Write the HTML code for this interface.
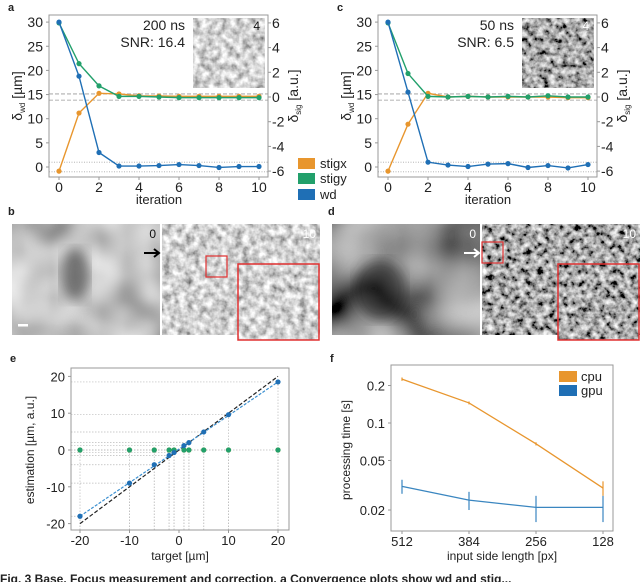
<!DOCTYPE html>
<html><head><meta charset="utf-8">
<style>
html,body{margin:0;padding:0;background:#fff;}
svg{display:block;font-family:"Liberation Sans",sans-serif;}
</style></head>
<body>
<svg id="fig" width="640" height="582" viewBox="0 0 640 582" xmlns="http://www.w3.org/2000/svg">
<defs>
<filter id="em1" x="0" y="0" width="100%" height="100%"><feTurbulence type="fractalNoise" baseFrequency="0.14" numOctaves="3" seed="3"/><feColorMatrix type="matrix" values="1.3 0 0 0 0.0  1.3 0 0 0 0.0  1.3 0 0 0 0.0  0 0 0 0 1"/></filter>
<filter id="em2" x="0" y="0" width="100%" height="100%"><feTurbulence type="fractalNoise" baseFrequency="0.16" numOctaves="3" seed="7"/><feColorMatrix type="matrix" values="1.7 0 0 0 -0.45  1.7 0 0 0 -0.45  1.7 0 0 0 -0.45  0 0 0 0 1"/></filter>
<filter id="blur1" x="0" y="0" width="100%" height="100%"><feTurbulence type="fractalNoise" baseFrequency="0.02" numOctaves="2" seed="5"/><feColorMatrix type="matrix" values="1.1 0 0 0 0.02  1.1 0 0 0 0.02  1.1 0 0 0 0.02  0 0 0 0 1"/></filter>
<filter id="blur2" x="0" y="0" width="100%" height="100%"><feTurbulence type="fractalNoise" baseFrequency="0.015" numOctaves="2" seed="9"/><feColorMatrix type="matrix" values="1.1 0 0 0 -0.25  1.1 0 0 0 -0.25  1.1 0 0 0 -0.25  0 0 0 0 1"/></filter>
<filter id="soft"><feGaussianBlur stdDeviation="6"/></filter>
</defs>
<g id="root"></g>
</svg>
<script>
// ---- data ----
const iterations = [0,1,2,3,4,5,6,7,8,9,10];
const aWd = [30,18.8,3,0.2,0.2,0.3,0.5,0.3,-0.1,0.1,0.1];
const aStigx = [-6,-1.3,0.3,0.25,0.1,0.08,0.05,0.05,0.05,0.05,0.05];
const aStigy = [6,2.7,0.9,0.05,0.05,0,-0.05,-0.05,-0.05,-0.05,-0.05];
const cWd = [30,15.5,1,0.4,0.1,0.6,0.7,-0.1,0.3,-0.2,0.5];
const cStigx = [-6,-2.2,0.3,0,0.05,0,0,0,0,-0.05,-0.05];
const cStigy = [6,1.9,0.05,0,0.05,0,0.05,0,0.1,0,0];
const leftTicks = [0,5,10,15,20,25,30];
const rightTicks = [-6,-4,-2,0,2,4,6];
const iterTicks = [0,2,4,6,8,10];
const eTargets = [-20,-10,-5,-2,-1,1,2,5,10,20];
const eWdEst = [-18,-9,-4,-1.5,-0.7,1.2,2,4.9,9.6,18.5];
const eStigEst = [0,0,0,0,0,0,0,0,0,0];
const eXTicks = [-20,-10,0,10,20];
const eYTicks = [-20,-10,0,10,20];
const fSizes = ['512','384','256','128'];
const fCpu = [0.225,0.145,0.068,0.03];
const fCpuErr = [0.007,0.004,0.002,0.004];
const fGpu = [0.031,0.024,0.021,0.021];
const fGpuErr = [0.004,0.004,0.005,0.005];
const fYTicks = [0.02,0.05,0.1,0.2];
const fYLabels = ['0.02','0.05','0.1','0.2'];

const C_OR='#e8962e', C_GR='#22a06b', C_BL='#1f6fb5';
const NS='http://www.w3.org/2000/svg';
const root=document.getElementById('root');
function mk(tag,attrs,parent){const e=document.createElementNS(NS,tag);for(const k in attrs)e.setAttribute(k,attrs[k]);(parent||root).appendChild(e);return e;}
function tx(x,y,s,size,anchor,parent,extra){const e=mk('text',Object.assign({x:x,y:y,'font-size':size,'text-anchor':anchor||'start',fill:'#222'},extra||{}),parent);e.textContent=s;return e;}

// ---- panels a & c ----
function iterPanel(ox,letter,wd,sx,sy,t1,t2,insetX,insetFilter){
  const g=mk('g',{});
  
  
  const L=ox+49,R=ox+268,T=15,B=177;
  const X=i=>ox+59+i*20, YL=v=>167-v*4.83, YR=v=>97-v*12.35;
  let e=tx(ox+8,11,letter,11,'start',g,{'font-weight':'bold'});
  
  e=mk('rect',{x:insetX,y:18,width:72,height:70,fill:'#888',filter:'url(#'+insetFilter+')'},g);
  
  e=tx(insetX+67,30,'4',12,'end',g,{fill: letter==='a'?'#111':'#fff'});
  
  e=tx(insetX-8,30,t1,14,'end',g);
  
  e=tx(insetX-8,47,t2,14,'end',g);
  
  [0.25,-0.25].forEach(v=>{e=mk('line',{x1:L,x2:R,y1:YR(v),y2:YR(v),stroke:'#999','stroke-dasharray':'4,2','stroke-width':0.8},g);
  });
  [1,-1].forEach(v=>{e=mk('line',{x1:L,x2:R,y1:YL(v),y2:YL(v),stroke:'#aaa','stroke-dasharray':'1,1.5','stroke-width':0.8},g);
  });
  e=mk('rect',{x:L,y:T,width:R-L,height:B-T,fill:'none',stroke:'#999','stroke-width':1},g);
  
  leftTicks.forEach(v=>{mk('line',{x1:L-3,x2:L,y1:YL(v),y2:YL(v),stroke:'#999'},g);
    e=tx(L-6,YL(v)+5,String(v),14,'end',g);
    });
  rightTicks.forEach(v=>{mk('line',{x1:R,x2:R+3,y1:YR(v),y2:YR(v),stroke:'#999'},g);
    e=tx(R+4,YR(v)+5,String(v),14,'start',g);
    });
  iterTicks.forEach(v=>{mk('line',{x1:X(v),x2:X(v),y1:B,y2:B+3,stroke:'#999'},g);
    e=tx(X(v),B+15,String(v),14,'middle',g);
    });
  e=tx(ox+159,B+27,'iteration',13,'middle',g);
  
  const lt=mk('text',{x:0,y:0,'font-size':14,fill:'#222','text-anchor':'middle',transform:'translate('+(ox+22)+',96) rotate(-90)'},g);
  lt.innerHTML='δ<tspan font-size="8" dy="3">wd</tspan><tspan dy="-3"> [µm]</tspan>';
  
  const rt=mk('text',{x:0,y:0,'font-size':14,fill:'#222','text-anchor':'middle',transform:'translate('+(R+30)+',96) rotate(-90)'},g);
  rt.innerHTML='δ<tspan font-size="8" dy="3">sig</tspan><tspan dy="-3"> [a.u.]</tspan>';
  
  function series(vals,Y,col,name){
    const pts=vals.map((v,i)=>X(iterations[i])+','+Y(v)).join(' ');
    let p=mk('polyline',{points:pts,fill:'none',stroke:col,'stroke-width':1.4},g);
    
    vals.forEach((v,i)=>{let c=mk('circle',{cx:X(iterations[i]),cy:Y(v),r:2.6,fill:col},g);
      });
  }
  series(sx,YR,C_OR,'stigx');
  series(sy,YR,C_GR,'stigy');
  series(wd,YL,C_BL,'wd');
}
iterPanel(0,'a',aWd,aStigx,aStigy,'200 ns','SNR: 16.4',193,'em1');
iterPanel(329,'c',cWd,cStigx,cStigy,'50 ns','SNR: 6.5',522,'em2');

[['stigx',C_OR,158],['stigy',C_GR,173],['wd',C_BL,189]].forEach(([n,c,y])=>{
  let r=mk('rect',{x:298,y:y,width:17,height:11,fill:c});
  
  let t=tx(320,y+10,n,13,'start');
  
});

// ---- panels b & d images ----
function imgPanel(letter,lx,rx,rw,filtL,filtR,arrowCol,sBox,blob){
  let e=tx(lx-2,215,letter,11,'start',null,{'font-weight':'bold'});
  
  e=mk('rect',{x:lx+2,y:224,width:rx-lx-4,height:111,fill:'#999',filter:'url(#'+filtL+')'});
  
  e=mk('ellipse',{cx:blob[0],cy:blob[1],rx:blob[2],ry:blob[3],fill:blob[4],filter:'url(#soft)',opacity:0.6});
  
  e=mk('rect',{x:rx,y:224,width:rw,height:111,fill:'#999',filter:'url(#'+filtR+')'});
  
  e=tx(rx-6,238,'0',12,'end',null,{fill:letter==='b'?'#111':'#fff'});
  
  e=tx(rx+rw-4,238,'10',12,'end',null,{fill:'#fff'});
  
  e=mk('rect',{x:sBox[0],y:sBox[1],width:21,height:21,fill:'none',stroke:'#e03030','stroke-width':1.2});
  
  const g=mk('g',{});
  
  
  mk('rect',{x:rx+rw-82,y:264,width:81,height:76,fill:'#888',filter:'url(#'+filtR+')'},g);
  mk('rect',{x:rx+rw-82,y:264,width:81,height:76,fill:'none',stroke:'#e03030','stroke-width':1.5},g);
  e=mk('path',{d:'M'+(rx-18)+' 253 L'+(rx-4)+' 253 M'+(rx-8)+' 249 L'+(rx-3)+' 253 L'+(rx-8)+' 257',stroke:arrowCol,'stroke-width':2,fill:'none'});
  
}
imgPanel('b',10,162,158,'blur1','em1','#000',[206,256],[75,275,14,26,'#333']);
imgPanel('d',330,482,158,'blur2','em2','#fff',[482,242],[380,290,25,30,'#222']);
let sb=mk('rect',{x:18,y:324,width:10,height:2.5,fill:'#fff'});


// ---- panel e ----
(function(){
  const L=71,R=289,T=368,B=530;
  const X=v=>179+v*4.95, Y=v=>450-v*3.68;
  let e=tx(10,362,'e',11,'start',null,{'font-weight':'bold'});
  
  eTargets.forEach((t,i)=>{
    [eWdEst[i],eStigEst[i]].forEach(v=>{
      let a=mk('line',{x1:X(t),x2:X(t),y1:B,y2:Y(v),stroke:'#bbb','stroke-dasharray':'1.5,1.5','stroke-width':0.7});
      
      let b=mk('line',{x1:L,x2:X(t),y1:Y(v),y2:Y(v),stroke:'#bbb','stroke-dasharray':'1.5,1.5','stroke-width':0.7});
      
    });
  });
  e=mk('rect',{x:L,y:T,width:R-L,height:B-T,fill:'none',stroke:'#999'});
  
  eXTicks.forEach(v=>{mk('line',{x1:X(v),x2:X(v),y1:B,y2:B+3,stroke:'#999'});
    let t=tx(X(v),B+15,String(v),13,'middle');});
  eYTicks.forEach(v=>{mk('line',{x1:L-3,x2:L,y1:Y(v),y2:Y(v),stroke:'#999'});
    let t=tx(L-6,Y(v)+5,String(v),13,'end');});
  e=tx(180,560,'target [µm]',12,'middle');
  
  e=tx(0,0,'estimation [µm, a.u.]',12,'middle',null,{transform:'translate(34,450) rotate(-90)'});
  
  e=mk('line',{x1:X(-20),y1:Y(-20),x2:X(20),y2:Y(20),stroke:'#222','stroke-dasharray':'4,2','stroke-width':1.2});
  
  const slope=(eWdEst[9]-eWdEst[0])/(eTargets[9]-eTargets[0]);
  const icpt=eWdEst[0]-slope*eTargets[0];
  e=mk('line',{x1:X(-20),y1:Y(-20*slope+icpt),x2:X(20),y2:Y(20*slope+icpt),stroke:'#3a8fd0','stroke-dasharray':'3,1.5','stroke-width':1.2});
  
  eTargets.forEach((t,i)=>{
    let o=mk('circle',{cx:X(t),cy:Y(eStigEst[i]),r:2.6,fill:C_OR});
    let g2=mk('circle',{cx:X(t),cy:Y(eStigEst[i]),r:2.6,fill:C_GR});
    let b=mk('circle',{cx:X(t),cy:Y(eWdEst[i]),r:2.6,fill:C_BL});
  });
})();

// ---- panel f ----
(function(){
  const L=391,R=613,T=365,B=531;
  const X=i=>402+i*67, Y=v=>423-Math.log10(v/0.1)*124.5;
  let e=tx(330,362,'f',11,'start',null,{'font-weight':'bold'});
  
  e=mk('rect',{x:L,y:T,width:R-L,height:B-T,fill:'none',stroke:'#999'});
  
  fYTicks.forEach((v,i)=>{mk('line',{x1:L-3,x2:L,y1:Y(v),y2:Y(v),stroke:'#999'});
    let t=tx(L-6,Y(v)+5,fYLabels[i],13,'end');});
  fSizes.forEach((s,i)=>{mk('line',{x1:X(i),x2:X(i),y1:B,y2:B+3,stroke:'#999'});
    let t=tx(X(i),B+15,s,13,'middle');});
  e=tx(502,560,'input side length [px]',12,'middle');
  
  e=tx(0,0,'processing time [s]',12,'middle',null,{transform:'translate(350,450) rotate(-90)'});
  
  function ser(vals,errs,col,name){
    let p=mk('polyline',{points:vals.map((v,i)=>X(i)+','+Y(v)).join(' '),fill:'none',stroke:col,'stroke-width':1.3});
    
    vals.forEach((v,i)=>{
      let b=mk('line',{x1:X(i),x2:X(i),y1:Y(v+errs[i]),y2:Y(Math.max(v-errs[i],0.001)),stroke:col,'stroke-width':1.2});
      
    });
  }
  ser(fCpu,fCpuErr,C_OR,'cpu');
  ser(fGpu,fGpuErr,'#3a86c0','gpu');
  [['cpu',C_OR,371],['gpu',C_BL,385]].forEach(([n,c,y])=>{
    let r=mk('rect',{x:559,y:y,width:18,height:11,fill:c});
    let t=tx(581,y+10,n,13);
  });
})();

let cap=tx(0,583,'Fig. 3 Base. Focus measurement and correction. a Convergence plots show wd and stig...',12,'start',null,{'font-weight':'bold'});

</script>
</body></html>
